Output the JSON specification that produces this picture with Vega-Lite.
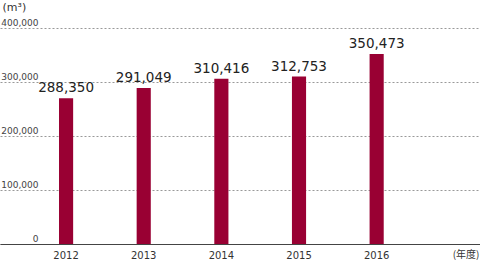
{
  "$schema": "https://vega.github.io/schema/vega-lite/v6.json",
  "width": 480,
  "height": 216,
  "autosize": "none",
  "padding": {"left": 0, "top": 28, "right": 0, "bottom": 16},
  "background": "white",
  "config": {"view": {"stroke": null}},
  "data": {"values": [
    {"year": "2012", "volume": 288350, "bar": 270000},
    {"year": "2013", "volume": 291049, "bar": 289000},
    {"year": "2014", "volume": 310416, "bar": 306000},
    {"year": "2015", "volume": 312753, "bar": 310000},
    {"year": "2016", "volume": 350473, "bar": 352000}
  ]},
  "encoding": {
    "x": {
      "field": "year", "type": "nominal",
      "scale": {"paddingInner": 0.818, "paddingOuter": 1.026, "align": 0.38},
      "axis": {
        "title": "(年度)", "titleX": 479, "titleY": 10, "titleAlign": "right", "titleBaseline": "middle",
        "titleFont": "Noto Sans CJK JP", "titleFontSize": 10, "titleFontWeight": "normal", "titleColor": "#333",
        "labelAngle": 0, "labelFont": "DejaVu Sans", "labelFontSize": 10, "labelColor": "#333",
        "labelPadding": 6, "labelBaseline": "top",
        "ticks": false, "domain": true, "domainColor": "#444", "domainWidth": 1, "grid": false
      }
    },
    "y": {
      "field": "bar", "type": "quantitative",
      "scale": {"domain": [0, 400000], "nice": false},
      "axis": {
        "values": [0, 100000, 200000, 300000, 400000], "format": ",d",
        "title": "(m³)", "titleAngle": 0, "titleX": 2, "titleY": -27, "titleAlign": "left", "titleBaseline": "top",
        "titleFont": "DejaVu Sans", "titleFontSize": 11, "titleFontWeight": "normal", "titleColor": "#333",
        "labelAlign": "right", "labelPadding": -38, "labelBaseline": "alphabetic", "labelOffset": -3,
        "labelFont": "DejaVu Sans", "labelFontSize": 9, "labelColor": "#444",
        "ticks": false, "domain": false,
        "grid": true, "gridColor": "#999", "gridDash": [2, 2], "gridWidth": 1
      }
    }
  },
  "layer": [
    {"mark": {"type": "bar", "color": "#990033"}},
    {
      "mark": {"type": "text", "baseline": "alphabetic", "dy": -6, "font": "DejaVu Sans", "fontSize": 13.5, "color": "#222"},
      "encoding": {"text": {"field": "volume", "type": "quantitative", "format": ","}}
    }
  ]
}
